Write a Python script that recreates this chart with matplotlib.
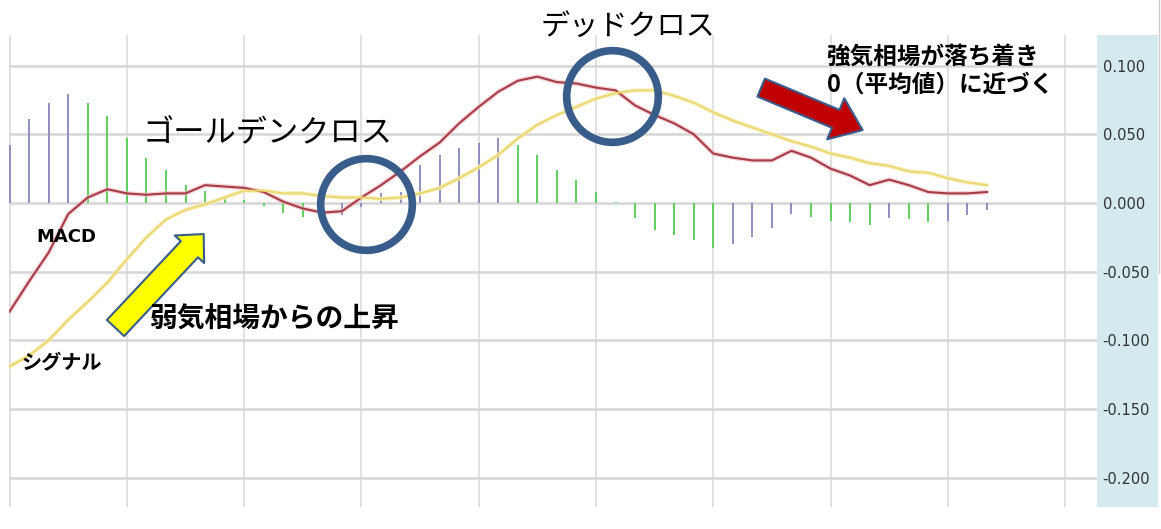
import numpy as np
import matplotlib
matplotlib.use('Agg')
import matplotlib.pyplot as plt
from matplotlib.patches import FancyArrowPatch, Rectangle, ArrowStyle
from matplotlib.lines import Line2D

plt.rcParams['font.family'] = ['Noto Sans CJK JP', 'DejaVu Sans']
plt.rcParams['axes.unicode_minus'] = False

# values (one point per bar)
hist = [0.042, 0.061, 0.073, 0.079, 0.073, 0.063, 0.047, 0.033, 0.024, 0.013,
        0.009, 0.004, 0.002, -0.002, -0.007, -0.010, -0.011, -0.009, -0.003, 0.007,
        0.008, 0.028, 0.035, 0.040, 0.044, 0.047, 0.042, 0.035, 0.024, 0.017,
        0.008, 0.001, -0.011, -0.020, -0.023, -0.027, -0.033, -0.030, -0.025, -0.018,
        -0.008, -0.010, -0.013, -0.014, -0.016, -0.011, -0.012, -0.014, -0.013, -0.009,
        -0.005]
macd = [-0.079, -0.057, -0.036, -0.008, 0.004, 0.010, 0.007, 0.006, 0.007, 0.007,
        0.013, 0.012, 0.011, 0.008, 0.001, -0.004, -0.007, -0.006, 0.004, 0.013,
        0.023, 0.034, 0.044, 0.058, 0.070, 0.081, 0.089, 0.092, 0.088, 0.087,
        0.084, 0.082, 0.071, 0.064, 0.058, 0.050, 0.036, 0.033, 0.031, 0.031,
        0.038, 0.033, 0.025, 0.020, 0.013, 0.017, 0.013, 0.008, 0.007, 0.007,
        0.008]
signal = [-0.119, -0.111, -0.100, -0.085, -0.072, -0.058, -0.041, -0.025, -0.012, -0.005,
          -0.001, 0.004, 0.009, 0.009, 0.007, 0.007, 0.005, 0.004, 0.004, 0.003,
          0.004, 0.007, 0.011, 0.018, 0.026, 0.035, 0.047, 0.057, 0.064, 0.070,
          0.076, 0.080, 0.082, 0.082, 0.078, 0.073, 0.066, 0.060, 0.055, 0.050,
          0.045, 0.041, 0.036, 0.033, 0.029, 0.027, 0.023, 0.022, 0.018, 0.015,
          0.013]
y_ticks = [0.1, 0.05, 0.0, -0.05, -0.1, -0.15, -0.2]
y_labels = ['0.100', '0.050', '0.000', '-0.050', '-0.100', '-0.150', '-0.200']

W, H = 1161, 529
fig = plt.figure(figsize=(W / 100, H / 100), dpi=100)
fig.patch.set_facecolor('white')
ax = fig.add_axes([9 / W, 1 - 507 / H, (1097 - 9) / W, (507 - 35) / H])

# light blue value panel on the right
fig.add_artist(Rectangle((1097 / W, 1 - 507 / H), 61 / W, 472 / H, transform=fig.transFigure,
                         facecolor='#d5eaee', edgecolor='none', zorder=0))
fig.add_artist(Line2D([1158.5 / W] * 2, [1, 1 - 273 / H], color='#cccccc', lw=1,
                      transform=fig.transFigure))

x = np.arange(len(hist))
h = np.array(hist)
rising = np.r_[True, h[1:] >= h[:-1]]
cols = np.where(rising, '#8f8fbf', '#5fcf5f')
ax.vlines(x, 0, h, colors=cols, lw=1.4, zorder=2)

ax.plot(x, macd, color='#f0b8bd', lw=3.4, alpha=0.6, zorder=3, solid_capstyle='round')
ax.plot(x, macd, color='#a63c48', lw=1.5, zorder=4)
ax.plot(x, signal, color='#f8eeb8', lw=3.4, alpha=0.7, zorder=3, solid_capstyle='round')
ax.plot(x, signal, color='#ead870', lw=1.5, zorder=4)

ax.set_xlim(-0.03, 55.63)
ax.set_ylim(-0.2213, 0.1223)
ax.set_xticks(np.arange(0, 55, 6))
ax.set_xticklabels([])
ax.set_yticks(y_ticks)
ax.set_yticklabels(y_labels)
ax.yaxis.tick_right()
ax.tick_params(axis='both', length=0)
ax.tick_params(axis='y', pad=4, labelsize=10.5, labelcolor='#333333')
for lbl in ax.get_yticklabels():
    lbl.set_fontfamily('DejaVu Sans')
ax.grid(axis='y', color='#d6d6d6', lw=1.8)
ax.grid(axis='x', color='#d8d8d8', lw=1.1)
ax.set_axisbelow(True)
for s in ax.spines.values():
    s.set_visible(False)

# circles around the crosses
ring = '#385d8a'
ax.plot(18.21, -0.0007, marker='o', ms=66, mfc='none', mec=ring, mew=5.5, zorder=6, clip_on=False)
ax.plot(30.8, 0.0779, marker='o', ms=66, mfc='none', mec=ring, mew=5.5, zorder=6, clip_on=False)

# block arrows
ax.add_patch(FancyArrowPatch((5.42, -0.0910), (9.93, -0.0226),
                             arrowstyle=ArrowStyle('simple', head_length=15, head_width=29, tail_width=17),
                             mutation_scale=1, fc='#ffff00', ec=ring, lw=1.5, zorder=7,
                             shrinkA=0, shrinkB=0))
ax.add_patch(FancyArrowPatch((38.45, 0.0840), (43.64, 0.0531),
                             arrowstyle=ArrowStyle('simple', head_length=21, head_width=32, tail_width=14),
                             mutation_scale=1, fc='#c00000', ec=ring, lw=1.5, zorder=7,
                             shrinkA=0, shrinkB=0))

ax.text(31.62, 0.1275, 'デッドクロス', fontsize=21, ha='center', va='center', zorder=8)
ax.text(13.2, 0.051, 'ゴールデンクロス', fontsize=22.5, ha='center', va='center', zorder=8)
ax.text(41.75, 0.1063, '強気相場が落ち着き', fontsize=17, fontweight='bold', ha='left', va='center', zorder=8)
ax.text(41.8, 0.0859, '0（平均値）に近づく', fontsize=17, fontweight='bold', ha='left', va='center', zorder=8)
ax.text(7.11, -0.0852, '弱気相場からの上昇', fontsize=20, fontweight='bold', ha='left', va='center', zorder=8)
ax.text(1.38, -0.0248, 'MACD', fontsize=13, fontweight='bold', family='DejaVu Sans',
        ha='left', va='center', zorder=8)
ax.text(0.6, -0.1165, 'シグナル', fontsize=14.5, fontweight='bold', ha='left', va='center', zorder=8)

fig.savefig('out.png', dpi=100)
